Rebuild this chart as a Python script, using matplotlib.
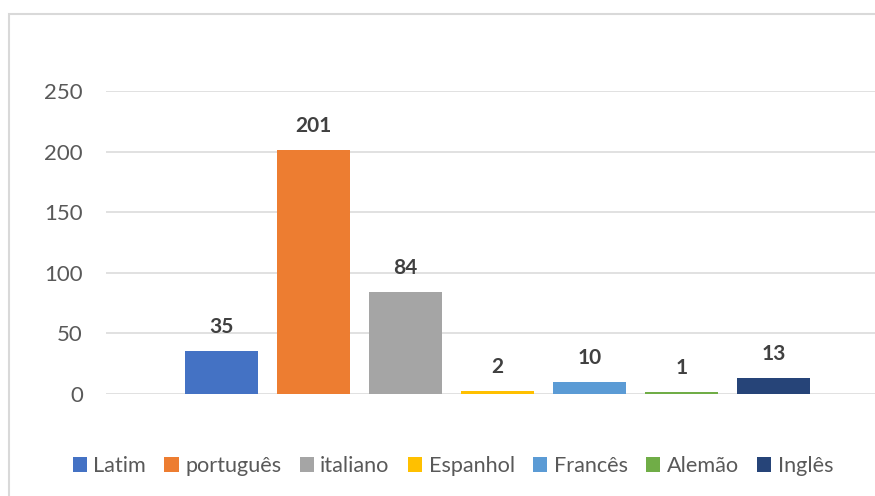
import matplotlib
matplotlib.use("Agg")
import matplotlib.pyplot as plt
from matplotlib.patches import Rectangle, Patch
import numpy as np

# data
languages = ['Latim', 'português', 'italiano', 'Espanhol', 'Francês', 'Alemão', 'Inglês']
counts = [35, 201, 84, 2, 10, 1, 13]
colors = ['#4472C4', '#ED7D31', '#A5A5A5', '#FFC000', '#5B9BD5', '#70AD47', '#264478']
yticks = [0, 50, 100, 150, 200, 250]

plt.rcParams['font.family'] = ['Lato', 'DejaVu Sans']

W, H = 875, 496
fig = plt.figure(figsize=(W / 100, H / 100), dpi=100)

# chart frame (right and bottom edges fall outside the picture)
fig.patches.append(Rectangle((9 / W, -0.1), 1.2, 1 - 14 / H + 0.1,
                             transform=fig.transFigure, fill=False,
                             edgecolor='#D9D9D9', linewidth=1.5))

ax = fig.add_axes([106 / W, (H - 393.7) / H, 783 / W, 302.7 / H])
x = np.arange(len(languages))
bars = ax.bar(x, counts, width=73 / 92, color=colors, zorder=3)

for xi, v in zip(x, counts):
    ax.annotate(str(v), (xi, v), xytext=(0, 17.3), textcoords='offset points',
                ha='center', va='center', fontsize=15, fontweight='bold',
                color='#404040')

ax.set_xlim(-1.255, 7.255)
ax.set_ylim(0, 250)
ax.set_yticks(yticks)
ax.set_xticks([])
ax.yaxis.grid(True, color='#D9D9D9', linewidth=1.1, zorder=0)
ax.set_axisbelow(True)
for s in ax.spines.values():
    s.set_visible(False)
ax.tick_params(axis='y', length=0, pad=16.6, labelsize=16, labelcolor='#595959')

handles = [Patch(facecolor=c, edgecolor='none') for c in colors]
fig.legend(handles, languages, loc='center', bbox_to_anchor=(453 / W, 1 - 466 / H),
           ncol=len(languages), frameon=False, fontsize=15.6,
           handlelength=0.65, handleheight=0.65, handletextpad=0.3,
           columnspacing=0.85, labelcolor='#595959', borderpad=0)

fig.savefig('out.png', dpi=100)
